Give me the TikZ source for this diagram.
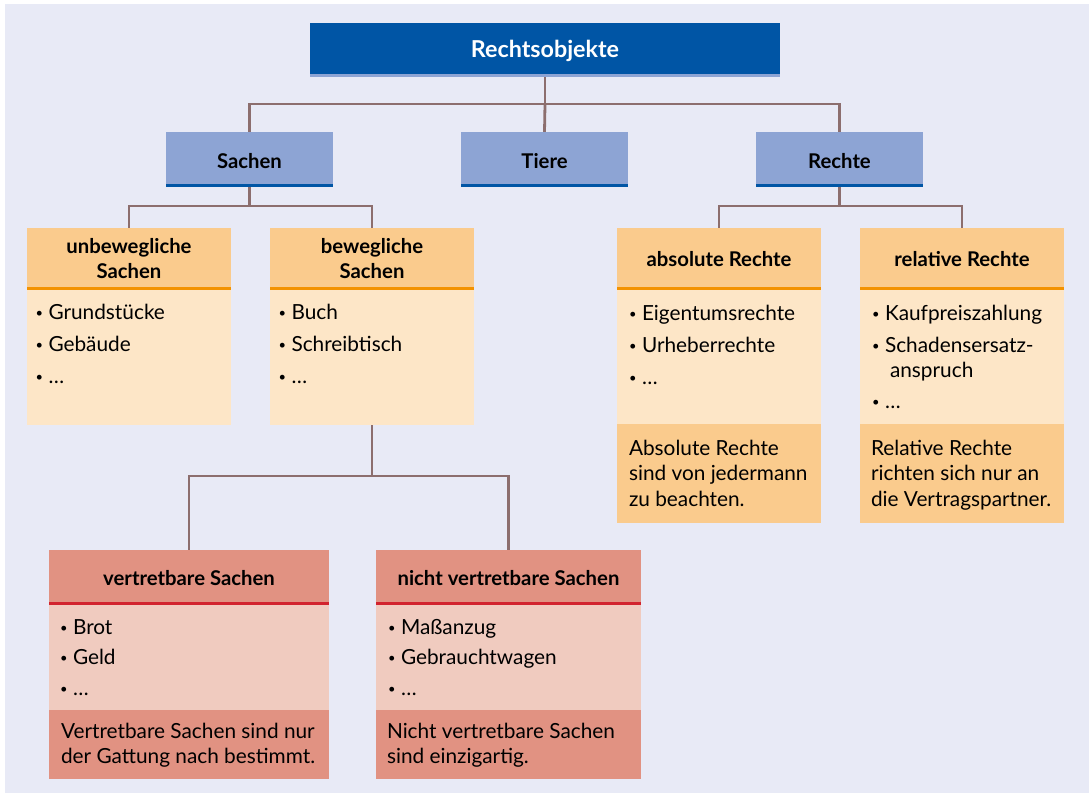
\documentclass[tikz,border=0pt]{standalone}
\usepackage{fontspec}
\setmainfont{Lato}
\definecolor{bgcol}{HTML}{E8EAF6}
\definecolor{dblue}{HTML}{0055A5}
\definecolor{mblue}{HTML}{8DA4D4}
\definecolor{ohead}{HTML}{FACB8D}
\definecolor{oline}{HTML}{F39200}
\definecolor{obody}{HTML}{FDE6C7}
\definecolor{rhead}{HTML}{E19282}
\definecolor{rline}{HTML}{D2232E}
\definecolor{rbody}{HTML}{F0CBBF}
\definecolor{conncol}{HTML}{8C6E6E}
\pgfdeclarelayer{back}
\pgfdeclarelayer{wires}
\pgfsetlayers{back,wires,main}
\begin{document}
\begin{tikzpicture}[x=1pt,y=-1pt,
  box/.style={inner sep=0pt,outer sep=0pt,draw=none,anchor=north west},
  hdrtxt/.style={inner sep=0pt,outer sep=0pt,anchor=base,font=\bfseries\fontsize{20.3}{25}\selectfont,text=black},
  txt/.style={inner sep=0pt,outer sep=0pt,anchor=base west,font=\fontsize{20.8}{25}\selectfont,text=black},
  conn/.style={draw=conncol,line width=2.8pt},
  bul/.style={txt}]
\newcommand{\bu}{\makebox[15.5pt][l]{\hspace{2.5pt}\raisebox{1.2pt}{\scalebox{0.62}{•}}}}
% background
\begin{pgfonlayer}{back}
\fill[white] (0,0) rectangle (1089,793);
\fill[bgcol] (5,4) rectangle (1089,793);
\end{pgfonlayer}
\useasboundingbox (0,0) rectangle (1089,793);

% top
\node[box,fill=dblue,minimum width=470pt,minimum height=51pt] (ro) at (310,23) {};
\fill[mblue] (ro.south west) rectangle ++(470,3);
\node[hdrtxt,font=\bfseries\fontsize{23.3}{26}\selectfont,text=white] (rot) at (545,57) {Rechtsobjekte};

% level 2
\foreach \nm/\x/\t in {sachen/166/Sachen,tiere/461/Tiere,rechte/756/Rechte}{
  \node[box,fill=mblue,minimum width=167pt,minimum height=52pt] (\nm) at (\x,132) {};
  \fill[dblue] (\nm.south west) rectangle ++(167,3);
  \node[hdrtxt] (\nm t) at (\x+83.5,168) {\t};
}

% orange boxes
\foreach \nm/\x in {ubh/27,bwh/270,abh/617,rlh/860}{
  \node[box,fill=ohead,minimum width=204pt,minimum height=59pt] (\nm) at (\x,228) {};
  \fill[oline] (\nm.south west) rectangle ++(204,3);
}
\node[hdrtxt] (ubt1) at (129,253) {unbewegliche};
\node[hdrtxt] (ubt2) at (129,278) {Sachen};
\node[hdrtxt] (bwt1) at (372,253) {bewegliche};
\node[hdrtxt] (bwt2) at (372,278) {Sachen};
\node[hdrtxt] (abt) at (719,266) {absolute Rechte};
\node[hdrtxt] (rlt) at (962,266) {relative Rechte};
\node[box,fill=obody,minimum width=204pt,minimum height=135pt] (ubb) at (27,290) {};
\node[box,fill=obody,minimum width=204pt,minimum height=135pt] (bwb) at (270,290) {};
\node[box,fill=obody,minimum width=204pt,minimum height=134pt] (abb) at (617,290) {};
\node[box,fill=obody,minimum width=204pt,minimum height=134pt] (rlb) at (860,290) {};
\node[box,fill=ohead,minimum width=204pt,minimum height=99pt] (abf) at (617,424) {};
\node[box,fill=ohead,minimum width=204pt,minimum height=99pt] (rlf) at (860,424) {};

% red boxes
\node[box,fill=rhead,minimum width=280pt,minimum height=52pt] (vsh) at (49,550) {};
\fill[rline] (vsh.south west) rectangle ++(280,3);
\node[hdrtxt] (vst) at (189,585) {vertretbare Sachen};
\node[box,fill=rbody,minimum width=280pt,minimum height=105pt] (vsb) at (49,605) {};
\node[box,fill=rhead,minimum width=280pt,minimum height=69pt] (vsf) at (49,710) {};
\node[box,fill=rhead,minimum width=265pt,minimum height=52pt] (nvh) at (376,550) {};
\fill[rline] (nvh.south west) rectangle ++(265,3);
\node[hdrtxt] (nvt) at (508.5,585) {nicht vertretbare Sachen};
\node[box,fill=rbody,minimum width=265pt,minimum height=105pt] (nvb) at (376,605) {};
\node[box,fill=rhead,minimum width=265pt,minimum height=69pt] (nvf) at (376,710) {};

% connectors
\coordinate (j1) at (545,104);
\coordinate (j2) at (249.5,206);
\coordinate (j3) at (839.5,206);
\coordinate (j4) at (372,476);
\begin{pgfonlayer}{wires}
\draw[conn] (ro.south) -- (j1);
\draw[conn] (j1) -| (sachen.north);
\draw[conn] (j1) -- (tiere.north);
\draw[conn] (j1) -| (rechte.north);
\draw[conn] (sachen.south) -- (j2);
\draw[conn] (j2) -| (ubh.north);
\draw[conn] (j2) -| (bwh.north);
\draw[conn] (rechte.south) -- (j3);
\draw[conn] (j3) -| (abh.north);
\draw[conn] (j3) -| (rlh.north);
\draw[conn] (bwb.south) -- (j4);
\draw[conn] (j4) -| (vsh.north);
\draw[conn] (j4) -| (nvh.north);
\end{pgfonlayer}

% texts
\node[bul] (u1) at (33,319) {\bu Grundstücke};
\node[bul] (u2) at (33,351) {\bu Gebäude};
\node[bul] (u3) at (33,383) {\bu …};
\node[bul] (b1) at (276,319) {\bu Buch};
\node[bul] (b2) at (276,351) {\bu Schreibtisch};
\node[bul] (b3) at (276,383) {\bu …};
\node[bul] (a1) at (626.5,320) {\bu Eigentumsrechte};
\node[bul] (a2) at (626.5,352) {\bu Urheberrechte};
\node[bul] (a3) at (626.5,384) {\bu …};
\node[bul] (r1) at (869.5,320) {\bu Kaufpreiszahlung};
\node[bul] (r2) at (869.5,352) {\bu Schadensersatz-};
\node[txt] (r2b) at (890,377) {anspruch};
\node[bul] (r3) at (869.5,408) {\bu …};
\node[txt] (af1) at (629,455) {Absolute Rechte};
\node[txt] (af2) at (629,480) {sind von jedermann};
\node[txt] (af3) at (629,506) {zu beachten.};
\node[txt] (rf1) at (871,455) {Relative Rechte};
\node[txt] (rf2) at (871,480) {richten sich nur an};
\node[txt] (rf3) at (871,506) {die Vertragspartner.};
\node[bul] (v1) at (57.5,634) {\bu Brot};
\node[bul] (v2) at (57.5,664) {\bu Geld};
\node[bul] (v3) at (57.5,695) {\bu …};
\node[txt] (vf1) at (61,738) {Vertretbare Sachen sind nur};
\node[txt] (vf2) at (61,763) {der Gattung nach bestimmt.};
\node[bul] (n1) at (385.5,634) {\bu Maßanzug};
\node[bul] (n2) at (385.5,664) {\bu Gebrauchtwagen};
\node[bul] (n3) at (385.5,695) {\bu …};
\node[txt] (nf1) at (387,738) {Nicht vertretbare Sachen};
\node[txt] (nf2) at (387,763) {sind einzigartig.};
\end{tikzpicture}
\end{document}
